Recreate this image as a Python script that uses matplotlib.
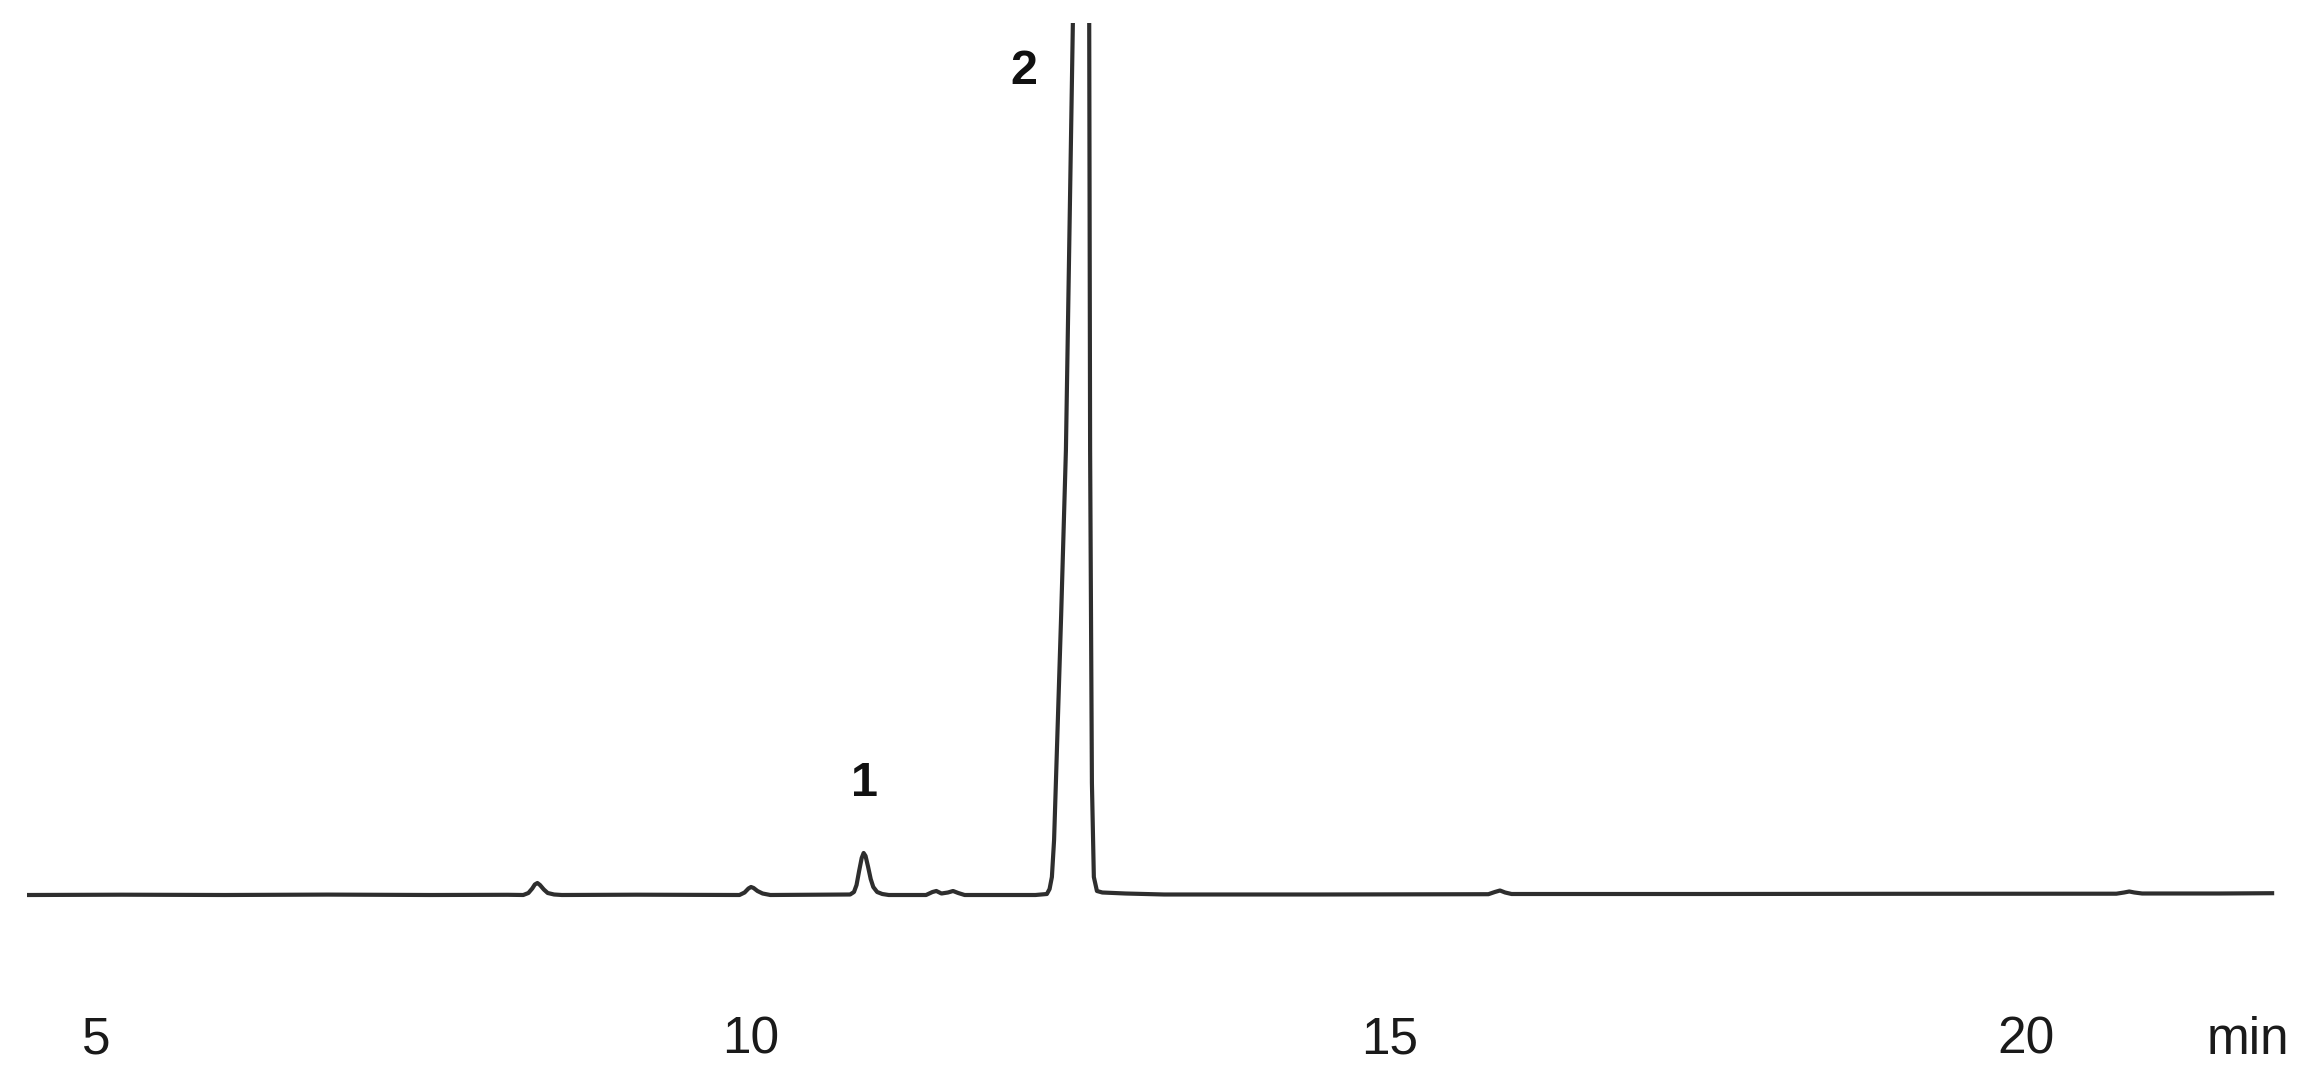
import matplotlib
matplotlib.use("Agg")
import matplotlib.pyplot as plt

plt.rcParams['font.family'] = ['Liberation Sans', 'DejaVu Sans']

# chromatogram trace: retention time (min), signal (a.u.)
time = [4.48, 5.2, 6.0, 6.8, 7.6, 8.2,
        8.32, 8.36, 8.39, 8.41, 8.43, 8.45, 8.48, 8.51, 8.56, 8.62,
        9.2, 10.00, 10.04, 10.07, 10.09, 10.11, 10.14, 10.18, 10.24,
        10.86, 10.89, 10.91, 10.93, 10.95, 10.965, 10.98, 11.00, 11.02, 11.04,
        11.07, 11.11, 11.16,
        11.45, 11.50, 11.53, 11.57, 11.62, 11.66, 11.70, 11.75,
        12.30, 12.389, 12.41, 12.428, 12.445, 12.459, 12.50, 12.537, 12.591,
        12.63, 12.66, 12.70, 12.718, 12.725, 12.739, 12.754, 12.778, 12.82,
        13.0, 13.3, 14.5, 15.82, 15.87, 15.91, 15.95, 16.00,
        17.5, 19.0, 20.70, 20.76, 20.80, 20.84, 20.90, 21.5, 21.91]
signal = [0, 0.3, 0, 0.4, 0, 0.2,
          0, 2, 6.5, 10.5, 12, 10, 5.5, 2, 0.5, 0,
          0.3, 0, 2.5, 6.5, 8, 7, 4, 1.5, 0,
          0.5, 3, 10, 24, 37, 42, 39, 28, 16, 8,
          3, 1, 0,
          0, 3, 4, 1.5, 2.5, 4, 2, 0,
          0, 1, 6, 18, 55, 112, 280, 445, 872,
          1250, 1400, 1200, 872, 445, 112, 18, 4, 2.5,
          1.5, 0.5, 0.5, 0.8, 3, 4.5, 2.5, 1,
          1, 1.2, 1.3, 2.5, 3.5, 2.5, 1.5, 1.5, 1.8]

tick_txt = ['5', '10', '15', '20']
tick_pos = [5.0, 10.09, 15.05, 20.0]
unit_pos = 21.72
unit_txt = 'min'

peak_labels = ['1', '2']
peak_x = [10.975, 12.21]
peak_y = [111, 823]

fig = plt.figure(figsize=(23.12, 10.85), dpi=100)
ax = fig.add_axes([0, 0, 1, 1062 / 1085])
ax.plot(time, signal, color='#2e2e2e', lw=3.0, solid_joinstyle='round')
ax.set_xlim(4.254, 22.22)
ax.set_ylim(-190, 872)
ax.axis('off')

for p, t in zip(tick_pos, tick_txt):
    ax.text(p, -145, t, ha='center', va='center', fontsize=37, color='#1a1a1a')
ax.text(unit_pos, -145, unit_txt, ha='center', va='center', fontsize=37, color='#1a1a1a')

for lab, x, y in zip(peak_labels, peak_x, peak_y):
    ax.text(x, y, lab, ha='center', va='center', fontsize=35,
            fontweight='bold', color='#111111')

fig.savefig('out.png', dpi=100)
